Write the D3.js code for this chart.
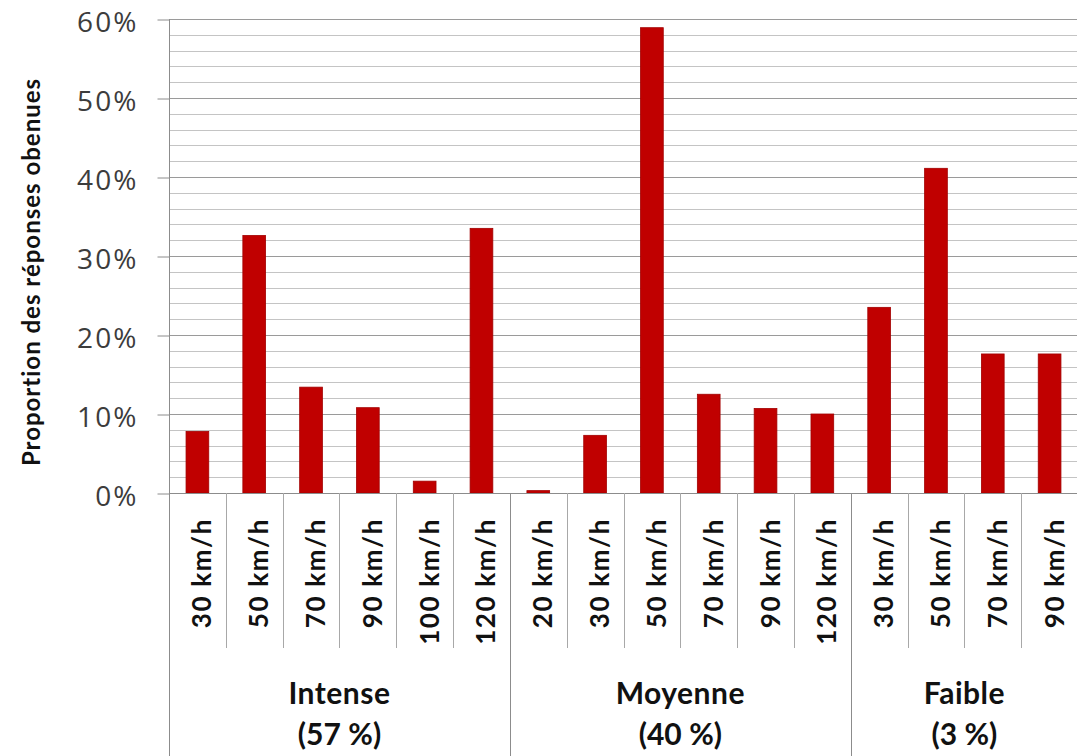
<!DOCTYPE html>
<html lang="fr">
<head>
<meta charset="utf-8">
<script src="https://cdn.jsdelivr.net/npm/d3@7"></script>
<style>
  html, body { margin: 0; padding: 0; background: #fff; }
  svg { display: block; }
</style>
</head>
<body>
<svg id="chart" width="1077" height="756"></svg>
<script>
// Speed categories, grouped by intensity level
const groups = ["Intense", "Moyenne", "Faible"];
const groupShares = ["(57\u202F%)", "(40\u202F%)", "(3\u202F%)"];
const groupSizes = [6, 6, 4];
const categories = [
  "30 km/h", "50 km/h", "70 km/h", "90 km/h", "100 km/h", "120 km/h",
  "20 km/h", "30 km/h", "50 km/h", "70 km/h", "90 km/h", "120 km/h",
  "30 km/h", "50 km/h", "70 km/h", "90 km/h"
];
// Share of answers for each category (fraction)
const values = [
  0.078, 0.326, 0.134, 0.108, 0.015, 0.335,
  0.003, 0.073, 0.589, 0.125, 0.107, 0.100,
  0.235, 0.411, 0.176, 0.176
];
const yTicks = [0, 0.1, 0.2, 0.3, 0.4, 0.5, 0.6];

const svg = d3.select("#chart");
const plotLeft = 169, plotRight = 1078, plotTop = 19, plotBottom = 493;
const labelBottom = 648, groupBottom = 756;

const x = d3.scaleBand()
  .domain(d3.range(categories.length))
  .range([plotLeft, plotRight])
  .padding(0);
const y = d3.scaleLinear().domain([0, 0.6]).range([plotBottom, plotTop]);

// Horizontal grid: minor every 2 %, major every 10 %
const minor = d3.range(0.02, 0.6001, 0.02).filter(v => Math.abs(v * 10 - Math.round(v * 10)) > 1e-6);
svg.append("g").selectAll("line").data(minor).join("line")
  .attr("x1", plotLeft).attr("x2", plotRight)
  .attr("y1", d => Math.round(y(d)) + 0.5).attr("y2", d => Math.round(y(d)) + 0.5)
  .attr("stroke", "#c4c4c4").attr("stroke-width", 1);
svg.append("g").selectAll("line").data(yTicks.slice(1)).join("line")
  .attr("x1", plotLeft).attr("x2", plotRight)
  .attr("y1", d => Math.round(y(d)) + 0.5).attr("y2", d => Math.round(y(d)) + 0.5)
  .attr("stroke", "#9a9a9a").attr("stroke-width", 1);

// Y axis with outward ticks
const yAxis = d3.axisLeft(y).tickValues(yTicks).tickFormat(d3.format(".0%"))
  .tickSize(12).tickPadding(19);
const ya = svg.append("g").attr("transform", `translate(${plotLeft + 0.5},0)`).call(yAxis);
ya.select(".domain").remove();
ya.selectAll(".tick line").attr("stroke", "#8c8c8c").attr("transform", "translate(0,0.5)");
ya.selectAll(".tick text")
  .attr("font-family", "'Open Sans', sans-serif")
  .attr("font-size", 28)
  .attr("letter-spacing", 2.1)
  .attr("dy", "0.44em")
  .attr("fill", "#3c3c3c");

// Bars
const bw = x.bandwidth() * 0.4;
svg.append("g").selectAll("rect").data(values).join("rect")
  .attr("x", (d, i) => x(i) + (x.bandwidth() - bw) / 2)
  .attr("width", bw)
  .attr("y", d => y(d))
  .attr("height", d => y(0) - y(d))
  .attr("fill", "#c00000")
  .attr("stroke", "#a20000")
  .attr("stroke-width", 0.8);

// X axis baseline
svg.append("line")
  .attr("x1", plotLeft).attr("x2", plotRight)
  .attr("y1", plotBottom + 0.5).attr("y2", plotBottom + 0.5)
  .attr("stroke", "#8c8c8c");

// Category separators and group separators
const groupStarts = [0];
groupSizes.forEach((s, i) => groupStarts.push(groupStarts[i] + s));
const bounds = d3.range(categories.length + 1);
svg.append("g").selectAll("line").data(bounds).join("line")
  .attr("x1", i => Math.round(i < categories.length ? x(i) : plotRight) + 0.5)
  .attr("x2", i => Math.round(i < categories.length ? x(i) : plotRight) + 0.5)
  .attr("y1", i => groupStarts.includes(i) ? (i === 0 ? plotTop : plotBottom) : plotBottom)
  .attr("y2", i => groupStarts.includes(i) ? groupBottom : labelBottom)
  .attr("stroke", i => groupStarts.includes(i) ? "#8c8c8c" : "#a8a8a8")
  .attr("stroke-width", 1);

// Rotated category labels
svg.append("g").selectAll("text").data(categories).join("text")
  .attr("transform", (d, i) => `translate(${x(i) + x.bandwidth() / 2 + 14},518) rotate(-90)`)
  .attr("text-anchor", "end")
  .attr("font-family", "Lato, sans-serif")
  .attr("font-weight", 700)
  .attr("font-size", 26)
  .attr("letter-spacing", 1.6)
  .attr("fill", "#111")
  .text(d => d);

// Group labels
const gl = svg.append("g").selectAll("g").data(groups).join("g")
  .attr("transform", (d, i) => {
    const x0 = x(groupStarts[i]);
    const x1 = groupStarts[i + 1] < categories.length ? x(groupStarts[i + 1]) : plotRight;
    return `translate(${(x0 + x1) / 2},0)`;
  })
  .attr("font-family", "Lato, sans-serif")
  .attr("font-weight", 700)
  .attr("font-size", 30)
  .attr("letter-spacing", 0.5)
  .attr("fill", "#111")
  .attr("text-anchor", "middle");
gl.append("text").attr("y", 704).text(d => d);
gl.append("text").attr("y", 745).text((d, i) => groupShares[i]);

// Y axis title
svg.append("text")
  .attr("transform", `translate(40,272) rotate(-90)`)
  .attr("text-anchor", "middle")
  .attr("font-family", "Lato, sans-serif")
  .attr("font-weight", 700)
  .attr("font-size", 24)
  .attr("letter-spacing", 1)
  .attr("fill", "#111")
  .text("Proportion des réponses obenues");
</script>
</body>
</html>
